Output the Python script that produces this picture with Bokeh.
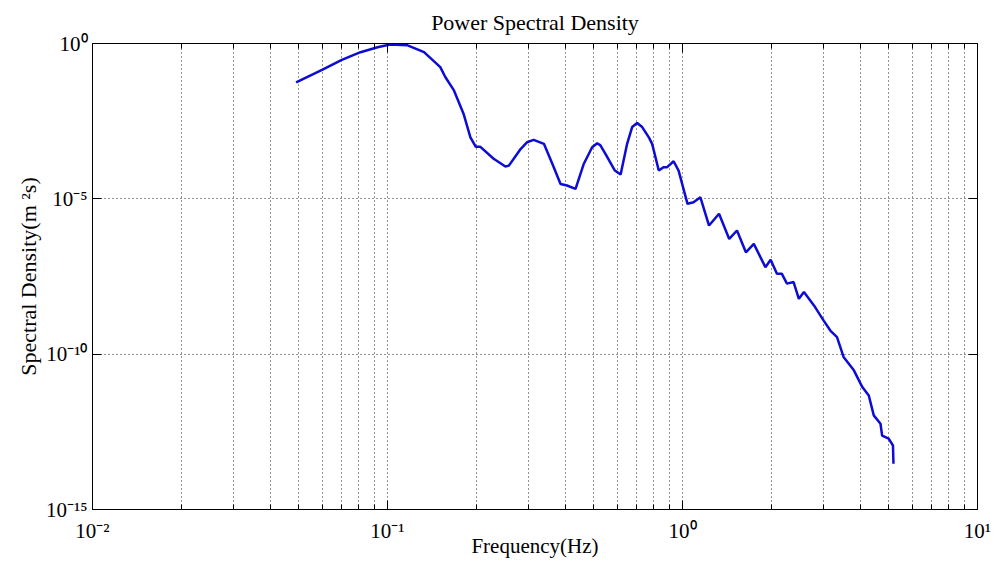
from bokeh.plotting import figure
from bokeh.models import LogAxis, FixedTicker, CustomJSTickFormatter
from bokeh.embed import file_html
from bokeh.resources import INLINE

# ---- data ----
freq_hz = [0.049, 0.060, 0.070, 0.081, 0.0925, 0.102, 0.117, 0.133, 0.151, 0.157,
           0.168, 0.181, 0.191, 0.199, 0.206, 0.229, 0.251, 0.258, 0.283, 0.297,
           0.313, 0.339, 0.362, 0.386, 0.406, 0.434, 0.463, 0.494, 0.514, 0.527,
           0.548, 0.590, 0.617, 0.649, 0.675, 0.702, 0.730, 0.769, 0.789, 0.831,
           0.862, 0.887, 0.933, 0.97, 1.04, 1.09, 1.15, 1.23, 1.33, 1.44,
           1.53, 1.64, 1.745, 1.91, 1.99, 2.09, 2.17, 2.26, 2.38, 2.48,
           2.58, 2.79, 3.01, 3.17, 3.34, 3.52, 3.81, 4.07, 4.28, 4.45,
           4.69, 4.75, 5.0, 5.17, 5.19]
log10_psd = [-1.255, -0.846, -0.525, -0.28, -0.12, -0.03, -0.06, -0.28, -0.76, -1.08,
             -1.51, -2.26, -3.02, -3.32, -3.32, -3.71, -3.96, -3.93, -3.39, -3.18,
             -3.10, -3.23, -3.87, -4.52, -4.57, -4.68, -3.87, -3.34, -3.21, -3.28,
             -3.55, -4.09, -4.22, -3.23, -2.69, -2.56, -2.69, -3.02, -3.23, -4.09,
             -3.98, -3.98, -3.79, -4.09, -5.16, -5.11, -4.95, -5.86, -5.48, -6.29,
             -6.02, -6.72, -6.45, -7.20, -6.96, -7.41, -7.41, -7.73, -7.68, -8.22,
             -8.00, -8.43, -8.92, -9.24, -9.45, -10.10, -10.52, -11.06, -11.33, -11.97,
             -12.24, -12.62, -12.72, -12.94, -13.53]
psd = [10 ** v for v in log10_psd]

x_major = [1e-2, 1e-1, 1e0, 1e1]
x_exponents = [-2, -1, 0, 1]
x_tick_labels = ["10\u207b\u00b2", "10\u207b\u00b9", "10\u2070", "10\u00b9"]
y_major = [1e-15, 1e-10, 1e-5, 1e0]
y_exponents = [-15, -10, -5, 0]
y_tick_labels = ["10\u207b\u00b9\u2075", "10\u207b\u00b9\u2070", "10\u207b\u2075", "10\u2070"]

title_text = "Power Spectral Density"
x_label = "Frequency(Hz)"
y_label = "Spectral Density(m \u00b2s)"

# ---- figure ----
FONT = "Liberation Serif"
p = figure(width=1000, height=563, x_axis_type="log", y_axis_type="log",
           x_range=(1e-2, 1e1), y_range=(1e-15, 1e0),
           output_backend="svg", toolbar_location=None,
           min_border_left=92, min_border_right=23,
           min_border_top=43, min_border_bottom=54)
p.background_fill_color = "white"
p.border_fill_color = "white"
p.outline_line_color = "black"
p.outline_line_width = 1

p.title.text = title_text
p.title.align = "center"
p.title.text_font = FONT
p.title.text_font_size = "22px"
p.title.text_font_style = "normal"
p.title.text_color = "black"
p.title.standoff = 10

x_minor = [m * d for d in x_major[:-1] for m in range(2, 10)]
xticker = FixedTicker(ticks=x_major, minor_ticks=x_minor)
yticker = FixedTicker(ticks=y_major, minor_ticks=[])

FMT_CODE = """
const e = Math.round(Math.log10(tick));
const i = exps.indexOf(e);
return i >= 0 ? labels[i] : "";
"""
blank_fmt = CustomJSTickFormatter(code="return ' ';")

def style_axis(ax):
    ax.axis_line_color = "black"
    ax.major_tick_line_color = "black"
    ax.minor_tick_line_color = "black"
    ax.major_tick_in = 9
    ax.major_tick_out = 0
    ax.minor_tick_in = 5
    ax.minor_tick_out = 0
    ax.major_label_text_font = FONT
    ax.major_label_text_color = "black"
    ax.major_label_text_font_size = "21px"

xa = p.xaxis[0]
xa.ticker = xticker
style_axis(xa)
xa.formatter = CustomJSTickFormatter(args=dict(exps=x_exponents, labels=x_tick_labels), code=FMT_CODE)
xa.major_label_standoff = 9
xa.axis_label = x_label
xa.axis_label_text_font = FONT
xa.axis_label_text_font_size = "21px"
xa.axis_label_text_font_style = "normal"
xa.axis_label_text_color = "black"
xa.axis_label_standoff = -12

ya = p.yaxis[0]
ya.ticker = yticker
style_axis(ya)
ya.formatter = CustomJSTickFormatter(args=dict(exps=y_exponents, labels=y_tick_labels), code=FMT_CODE)
ya.major_label_standoff = 5
ya.axis_label = y_label
ya.axis_label_text_font = FONT
ya.axis_label_text_font_size = "22px"
ya.axis_label_text_font_style = "normal"
ya.axis_label_text_color = "black"
ya.axis_label_standoff = 2

top = LogAxis(ticker=xticker, formatter=blank_fmt)
style_axis(top)
top.major_label_text_font_size = "1px"
top.major_label_standoff = 0
p.add_layout(top, "above")
right = LogAxis(ticker=yticker, formatter=blank_fmt)
style_axis(right)
right.major_label_text_font_size = "1px"
right.major_label_standoff = 0
p.add_layout(right, "right")

for g in (p.xgrid[0], p.ygrid[0]):
    g.grid_line_color = "black"
    g.grid_line_dash = "1 3"
    g.grid_line_alpha = 0.85
p.xgrid[0].minor_grid_line_color = "black"
p.xgrid[0].minor_grid_line_dash = "1 3"
p.xgrid[0].minor_grid_line_alpha = 0.85

p.line(freq_hz, psd, line_color="#0c0cd4", line_width=2.5)

open("out.html", "w").write(file_html(p, INLINE))
